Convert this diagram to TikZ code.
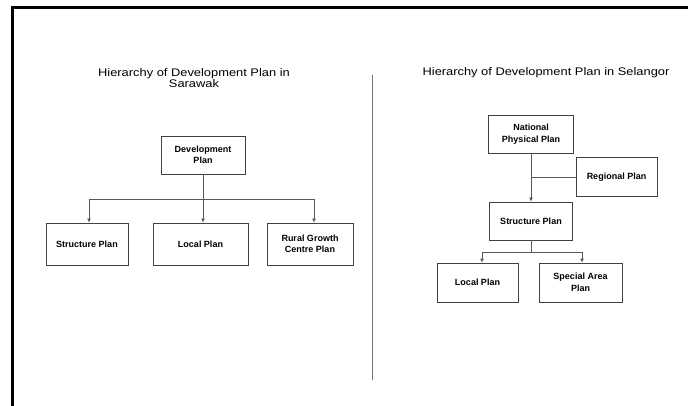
\documentclass[tikz,border=0pt]{standalone}
\usepackage{fontspec}
\setmainfont{Liberation Sans}
\newfontfamily\titlefont[FakeStretch=1.17]{Liberation Sans}
\usetikzlibrary{arrows.meta}

\begin{document}
\begin{tikzpicture}[x=1pt,y=-1pt,
  plan/.style={draw=black!75, line width=0.8pt, rectangle, align=center,
    inner sep=1pt, font=\bfseries\fontsize{9}{11.5}\selectfont},
  link/.style={draw=black!65, line width=0.8pt},
  tip/.style={link, -{Latex[length=4pt,width=4pt]}},
  heading/.style={align=center, inner sep=0pt,
    font=\titlefont\fontsize{11}{11.5}\selectfont}]
\useasboundingbox (0,0) rectangle (688,406);

% frame
\draw[line width=3pt] (12.5,406) -- (12.5,7.5) -- (688,7.5);

% divider between the two hierarchies
\coordinate (divtop) at (372,75);
\coordinate (divbot) at (372,380);
\draw[black!55, line width=0.8pt] (divtop) -- (divbot);

% ---- Sarawak ----
\node[heading] (ltitle) at (194,78) {Hierarchy of Development Plan in\\Sarawak};

\node[plan, minimum width=84pt, minimum height=38pt] (dev) at (203,155) {Development\\Plan};
\node[plan, minimum width=82pt, minimum height=42pt] (sp) at (87,244) {Structure Plan};
\node[plan, minimum width=95pt, minimum height=42pt] (lp) at (200.5,244) {Local Plan};
\node[plan, minimum width=86pt, minimum height=42pt] (rg) at (310,244) {Rural Growth\\Centre Plan};

\coordinate (lb0) at (203,199);
\coordinate (lb1) at (89,199);
\coordinate (lb2) at (314,199);
\draw[link] (dev.south) -- (lb0);
\draw[link] (lb1) -- (lb2);
\draw[tip] (lb1) -- (lb1 |- sp.north);
\draw[tip] (lb0) -- (lb0 |- lp.north);
\draw[tip] (lb2) -- (lb2 |- rg.north);

% ---- Selangor ----
\node[heading] (rtitle) at (546,72.5) {Hierarchy of Development Plan in Selangor};

\node[plan, minimum width=85pt, minimum height=38pt] (npp) at (531,134) {National\\Physical Plan};
\node[plan, minimum width=81pt, minimum height=39pt] (reg) at (616.5,177) {Regional Plan};
\node[plan, minimum width=83pt, minimum height=38pt] (spr) at (531,221) {Structure Plan};
\node[plan, minimum width=81pt, minimum height=39pt] (lpr) at (477.5,282.5) {Local Plan};
\node[plan, minimum width=83pt, minimum height=39pt] (sap) at (580.5,282.5) {Special Area\\Plan};

\draw[tip] (npp.south) -- (spr.north);
\draw[link] (reg.west) -- (reg.west -| npp.south);

\coordinate (rb0) at (531,252);
\coordinate (rb1) at (482,252);
\coordinate (rb2) at (582,252);
\draw[link] (spr.south) -- (rb0);
\draw[link] (rb1) -- (rb2);
\draw[tip] (rb1) -- (rb1 |- lpr.north);
\draw[tip] (rb2) -- (rb2 |- sap.north);
\end{tikzpicture}
\end{document}
